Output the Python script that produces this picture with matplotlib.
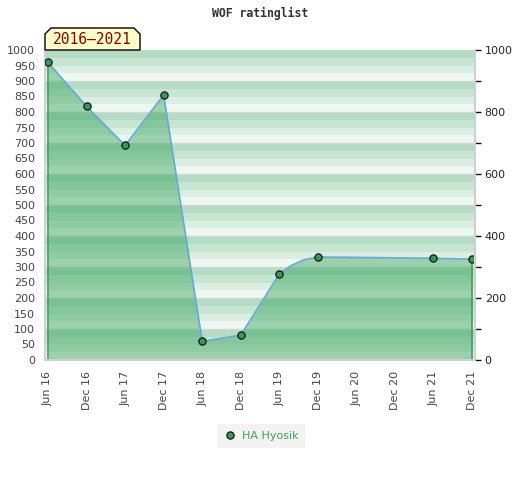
import matplotlib
matplotlib.use("Agg")
import matplotlib.pyplot as plt
from matplotlib.patches import Polygon
from matplotlib.lines import Line2D

# ---- data ----
tick_labels = ["Jun 16", "Dec 16", "Jun 17", "Dec 17", "Jun 18", "Dec 18",
               "Jun 19", "Dec 19", "Jun 20", "Dec 20", "Jun 21", "Dec 21"]
tick_months = [0, 6, 12, 18, 24, 30, 36, 42, 48, 54, 60, 66]   # months since Jun 2016

# rated points (with markers)
point_months = [0, 6, 12, 18, 24, 30, 36, 42, 60, 66]
point_values = [960, 818, 692, 855, 60, 80, 277, 332, 328, 325]

# full line (includes unmarked intermediate points)
line_months = [0, 6, 12, 18, 24, 30, 36, 37.8, 39.8, 42, 48, 60, 66]
line_values = [960, 818, 692, 855, 60, 80, 277, 304, 323, 332, 331, 328, 325]

series_name = "HA Hyosik"
period_label = "2016\u20132021"
title = "WOF ratinglist"
left_ticks = list(range(0, 1001, 50))
right_ticks = list(range(0, 1001, 200))
right_minor = list(range(100, 1000, 200))

# ---- figure ----
W, H = 520, 480
fig = plt.figure(figsize=(W / 100, H / 100), dpi=100)
ax = fig.add_axes([45 / W, 1 - 360 / H, 430 / W, 310 / H])

# striped background
stripe_cols = ["#eff7f2", "#dbeee2", "#c7e6d2", "#b3dcc3"]
for base in range(0, 1000, 100):
    for i in range(4):
        ax.axhspan(base + i * 25, base + (i + 1) * 25, color=stripe_cols[i], lw=0, zorder=0)
for y in range(100, 1000, 100):
    ax.axhline(y, color="#d6d6d6", lw=1.0, zorder=0.5)

# area fill
ax.fill_between(line_months, line_values, 0, color="#2c9f52", alpha=0.43, lw=0, zorder=1)
ax.vlines([line_months[0], line_months[-1]], 0, [line_values[0], line_values[-1]],
          color="#3aa35a", lw=1.2, zorder=2)
ax.plot(line_months, line_values, color="#64a8de", lw=1.2, zorder=3)
ax.plot(point_months, point_values, ls="none", marker="o", ms=5.2,
        mfc="#2e9e55", mec="#111111", mew=0.9, zorder=4)

pad = 0.47
ax.set_xlim(tick_months[0] - pad, tick_months[-1] + pad)
ax.set_ylim(0, 1000)

ax.set_xticks(tick_months)
ax.set_xticklabels(tick_labels, rotation=90, fontsize=8, color="#444444")
ax.set_yticks(left_ticks)
ax.set_yticklabels([str(v) for v in left_ticks], fontsize=8, color="#444444")
ax.tick_params(axis="x", length=0, pad=8)
ax.tick_params(axis="y", length=0, pad=7)

for s in ["top", "right"]:
    ax.spines[s].set_visible(False)
for s in ["left", "bottom"]:
    ax.spines[s].set_color("#d0d0d0")
    ax.spines[s].set_linewidth(1.5)

ax2 = ax.twinx()
ax2.set_ylim(0, 1000)
ax2.set_yticks(right_ticks)
ax2.set_yticklabels([str(v) for v in right_ticks], fontsize=8, color="#222222")
ax2.set_yticks(right_minor, minor=True)
ax2.tick_params(axis="y", which="both", length=4, width=1, color="#111111", pad=3)
for s in ["top", "left", "bottom"]:
    ax2.spines[s].set_visible(False)
ax2.spines["right"].set_color("#d0d0d0")
ax2.spines["right"].set_linewidth(1.5)

# title
fig.text(260 / W, 1 - 13 / H, title, ha="center", va="center",
         fontsize=8.3, family="DejaVu Sans Mono", weight="bold", color="#333333")

# period box with clipped top corners
px = [45, 45, 51, 134, 140, 140]
py = [430, 446, 452, 452, 446, 430]
poly = Polygon([(x / W, y / H) for x, y in zip(px, py)], closed=True,
               transform=fig.transFigure, facecolor="#ffffcc", edgecolor="#000000", lw=1)
fig.patches.append(poly)
fig.text(92.5 / W, 440.5 / H, period_label, ha="center", va="center",
         fontsize=10.5, family="DejaVu Sans Mono", color="#8b0000")

# legend
handle = Line2D([], [], ls="none", marker="o", ms=5.2, mfc="#2e9e55", mec="#111111", mew=0.9)
leg = fig.legend([handle], [series_name], loc="center", bbox_to_anchor=(261 / W, 1 - 436 / H),
                 frameon=True, fancybox=False, facecolor="#f0f0f0", edgecolor="#f0f0f0",
                 fontsize=8, labelcolor="#3aa35a", handletextpad=0.5, handlelength=1.2,
                 borderpad=0.6)
leg.get_frame().set_linewidth(0)

fig.savefig("out.png", dpi=100)
